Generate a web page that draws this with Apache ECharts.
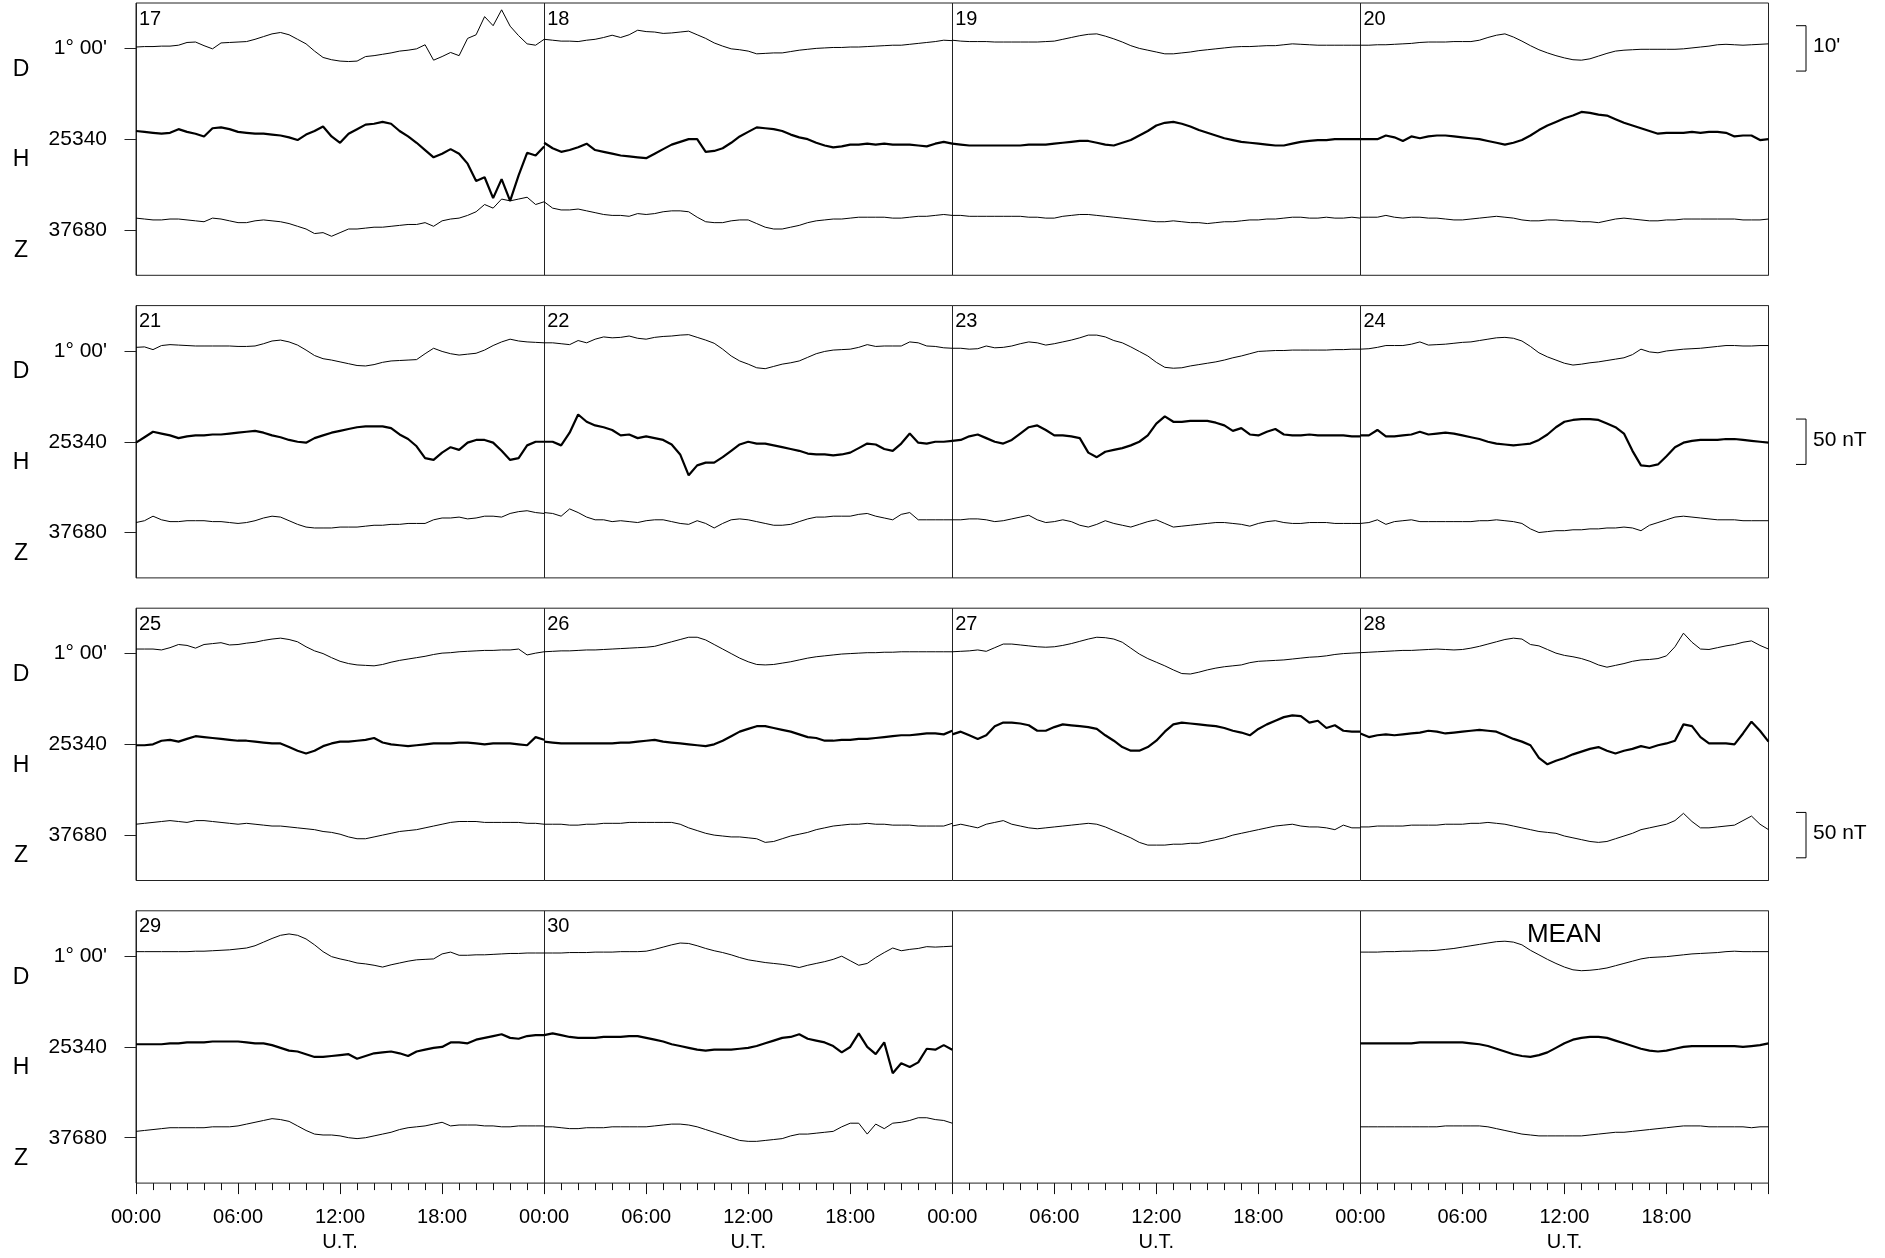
<!DOCTYPE html>
<html><head><meta charset="utf-8">
<script src="https://cdn.jsdelivr.net/npm/echarts@6/dist/echarts.min.js"></script>
<style>html,body{margin:0;padding:0;background:#fff}#c{width:1885px;height:1258px}</style>
</head><body><div id="c"></div>
<script>
// ---------- labels / ticks ----------
const HOUR_LABELS = ['00:00','06:00','12:00','18:00'];
const AXIS_TITLE = 'U.T.';
const COMPONENTS = ['D','H','Z'];
const BASE = {D: 60, H: 25340, Z: 37680};          // D in arc-minutes (1° 00')
const HALF = {D: 10, H: 50, Z: 50};
const SCALE_BARS = [
  {row: 0, comp: 'D', size: 10, label: "10'"},
  {row: 1, comp: 'H', size: 50, label: '50 nT'},
  {row: 2, comp: 'Z', size: 50, label: '50 nT'}
];
const ROW_DAYS = [['17','18','19','20'],['21','22','23','24'],['25','26','27','28'],['29','30',null,'MEAN']];

// ---------- data: 30-minute samples 00:00..24:00 ----------
const D17 = [60.3,60.4,60.4,60.5,60.5,60.7,61.3,61.4,60.6,59.9,61.2,61.3,61.4,61.5,62.0,62.6,63.2,63.5,63.0,62.0,61.0,59.4,58.0,57.5,57.2,57.1,57.2,58.2,58.4,58.7,59.0,59.4,59.6,59.9,60.8,57.4,58.2,59.1,58.4,62.2,63.0,67.0,65.0,68.5,64.9,62.8,61.0,60.7,62.0];
const H17 = [25349,25348,25347,25346,25347,25351,25348,25346,25343,25352,25353,25351,25348,25347,25346,25346,25345,25344,25342,25339,25345,25349,25354,25343,25336,25346,25351,25356,25357,25359,25357,25349,25343,25336,25328,25320,25324,25329,25324,25313,25294,25298,25275,25296,25272,25300,25325,25322,25332];
const Z17 = [37693,37692,37691,37691,37692,37692,37691,37690,37689,37693,37692,37690,37688,37688,37690,37691,37690,37689,37687,37684,37681,37676,37677,37673,37677,37681,37681,37682,37683,37683,37684,37685,37686,37686,37688,37684,37690,37692,37693,37696,37700,37708,37704,37714,37712,37714,37716,37708,37711];
const D18 = [62.0,61.8,61.6,61.6,61.5,61.8,62.0,62.4,62.9,62.4,63.0,64.0,63.7,63.6,63.3,63.4,63.6,63.8,63.0,62.2,61.2,60.5,59.9,59.7,59.4,58.8,58.9,59.0,59.0,59.3,59.6,59.8,60.0,60.1,60.2,60.2,60.3,60.3,60.4,60.5,60.6,60.7,60.7,60.9,61.1,61.3,61.5,61.8,61.7];
const H18 = [25336,25330,25326,25328,25331,25335,25328,25326,25324,25322,25321,25320,25319,25324,25329,25334,25337,25340,25340,25326,25327,25330,25336,25343,25348,25353,25352,25351,25349,25345,25342,25340,25336,25333,25331,25332,25334,25334,25335,25334,25335,25334,25334,25334,25333,25332,25335,25337,25335];
const Z18 = [37711,37704,37702,37702,37703,37701,37699,37697,37696,37696,37695,37698,37697,37698,37700,37701,37701,37700,37694,37689,37688,37688,37690,37691,37691,37687,37683,37681,37681,37683,37685,37688,37690,37691,37692,37692,37693,37694,37694,37694,37694,37693,37693,37694,37695,37695,37696,37697,37696];
const D19 = [61.8,61.6,61.5,61.5,61.5,61.4,61.4,61.4,61.4,61.4,61.4,61.5,61.6,62.0,62.4,62.8,63.1,63.2,62.7,62.1,61.4,60.6,60.0,59.6,59.2,58.8,58.8,59.0,59.2,59.5,59.7,59.9,60.1,60.3,60.4,60.4,60.5,60.6,60.6,60.8,61.0,60.9,60.8,60.7,60.7,60.7,60.7,60.7,60.7];
const H19 = [25335,25334,25333,25333,25333,25333,25333,25333,25333,25334,25334,25334,25335,25336,25337,25338,25338,25336,25334,25333,25336,25339,25344,25349,25355,25358,25359,25357,25354,25350,25347,25344,25341,25339,25337,25336,25335,25334,25333,25333,25335,25337,25338,25339,25339,25340,25340,25340,25340];
const Z19 = [37696,37696,37695,37695,37695,37695,37695,37695,37695,37694,37694,37693,37693,37695,37696,37697,37697,37696,37695,37694,37693,37692,37691,37690,37689,37689,37690,37689,37688,37688,37687,37688,37689,37689,37690,37691,37691,37692,37692,37693,37694,37694,37693,37693,37694,37693,37693,37694,37693];
const D20 = [60.7,60.7,60.8,60.8,60.9,61.0,61.1,61.3,61.4,61.4,61.4,61.5,61.5,61.5,61.8,62.4,62.9,63.2,62.5,61.6,60.6,59.7,59.0,58.4,57.9,57.5,57.4,57.7,58.3,58.9,59.4,59.6,59.7,59.8,59.8,59.8,59.8,59.8,59.9,60.1,60.3,60.5,60.8,60.9,60.8,60.7,60.8,60.9,61.0];
const H20 = [25340,25340,25340,25344,25342,25338,25343,25341,25343,25344,25344,25343,25342,25341,25340,25338,25336,25334,25336,25339,25344,25350,25355,25359,25363,25366,25370,25369,25367,25366,25362,25358,25355,25352,25349,25346,25347,25347,25347,25348,25347,25348,25348,25347,25343,25344,25344,25339,25340];
const Z20 = [37694,37694,37694,37696,37694,37693,37694,37694,37693,37693,37692,37691,37691,37692,37693,37694,37695,37694,37693,37691,37690,37690,37691,37691,37690,37690,37689,37689,37688,37690,37692,37693,37692,37691,37690,37690,37691,37691,37692,37692,37692,37692,37692,37692,37692,37691,37691,37691,37692];
const D21 = [60.8,60.9,60.3,61.2,61.4,61.3,61.2,61.1,61.1,61.1,61.1,61.1,61.0,61.0,61.1,61.6,62.2,62.4,62.0,61.3,60.2,59.0,58.3,58.0,57.6,57.2,56.8,56.7,57.0,57.5,57.8,57.9,58.0,58.1,59.4,60.6,59.9,59.4,59.1,59.3,59.5,60.2,61.2,62.0,62.6,62.2,62.0,61.9,61.8];
const H21 = [25339,25345,25351,25349,25347,25344,25346,25347,25347,25348,25348,25349,25350,25351,25352,25350,25347,25345,25342,25340,25339,25344,25347,25350,25352,25354,25356,25357,25357,25357,25355,25348,25343,25335,25322,25320,25328,25334,25331,25339,25342,25342,25339,25330,25320,25322,25336,25340,25340];
const Z21 = [37691,37693,37698,37694,37692,37692,37693,37693,37693,37692,37692,37691,37690,37691,37693,37696,37698,37697,37693,37689,37686,37685,37685,37685,37686,37686,37686,37687,37688,37688,37689,37689,37690,37690,37690,37694,37696,37696,37697,37695,37696,37698,37698,37697,37701,37703,37704,37702,37701];
const D22 = [61.8,61.8,61.6,61.4,62.3,61.8,62.6,63.1,62.9,63.0,63.3,62.8,62.6,63.0,63.2,63.3,63.5,63.6,63.0,62.4,61.7,60.4,58.9,57.8,57.1,56.3,56.1,56.6,57.1,57.4,57.8,58.6,59.4,59.9,60.2,60.3,60.4,60.8,61.4,61.0,61.1,61.1,61.1,62.0,61.8,61.1,61.0,60.7,60.6];
const H22 = [25340,25340,25336,25350,25370,25362,25358,25356,25353,25347,25348,25344,25346,25344,25342,25337,25326,25303,25314,25317,25317,25323,25330,25337,25340,25338,25338,25336,25334,25332,25330,25327,25326,25326,25325,25326,25328,25333,25338,25337,25332,25330,25338,25349,25339,25338,25340,25340,25341];
const Z22 = [37702,37701,37698,37706,37702,37697,37694,37694,37692,37693,37692,37691,37693,37694,37694,37692,37690,37689,37693,37690,37685,37690,37694,37695,37694,37692,37690,37688,37688,37689,37692,37695,37697,37697,37698,37698,37698,37700,37701,37698,37696,37694,37700,37702,37694,37694,37694,37694,37694];
const D23 = [60.6,60.6,60.4,60.5,61.1,60.7,60.8,61.1,61.6,62.0,61.8,61.3,61.6,62.0,62.4,62.9,63.5,63.5,63.1,62.3,61.8,60.9,59.9,58.9,57.5,56.4,56.2,56.3,56.7,57.0,57.3,57.6,58.0,58.5,58.9,59.4,59.9,60.0,60.1,60.1,60.2,60.2,60.2,60.2,60.2,60.3,60.3,60.4,60.4];
const H23 = [25341,25342,25346,25348,25344,25340,25338,25342,25349,25356,25358,25353,25347,25347,25346,25344,25328,25323,25329,25331,25333,25336,25340,25347,25360,25368,25362,25362,25363,25363,25363,25361,25358,25352,25355,25348,25347,25351,25354,25348,25347,25347,25348,25347,25347,25347,25347,25346,25346];
const Z23 = [37694,37694,37695,37695,37694,37692,37693,37695,37697,37699,37694,37691,37692,37694,37692,37688,37686,37689,37693,37690,37688,37686,37689,37692,37694,37690,37686,37687,37688,37689,37690,37691,37691,37690,37689,37687,37690,37692,37693,37691,37690,37690,37691,37691,37691,37690,37690,37690,37690];
const D24 = [60.4,60.5,60.8,61.2,61.2,61.2,61.5,62.0,61.3,61.4,61.5,61.7,61.9,62.0,62.3,62.6,62.9,63.0,62.8,62.2,61.0,59.6,58.7,58.0,57.3,56.9,57.1,57.4,57.6,57.9,58.2,58.5,59.2,60.4,59.8,59.6,60.0,60.2,60.4,60.5,60.6,60.8,61.0,61.2,61.2,61.1,61.1,61.2,61.2];
const H24 = [25347,25347,25353,25346,25346,25347,25348,25351,25348,25349,25350,25349,25347,25345,25343,25340,25338,25337,25336,25337,25338,25342,25348,25356,25362,25364,25365,25365,25364,25360,25356,25349,25330,25314,25313,25315,25324,25334,25339,25341,25342,25342,25342,25343,25343,25342,25341,25340,25339];
const Z24 = [37690,37691,37694,37689,37692,37693,37694,37692,37692,37692,37692,37692,37692,37692,37693,37693,37694,37693,37692,37690,37684,37680,37681,37682,37682,37683,37683,37684,37684,37685,37685,37686,37685,37682,37688,37691,37694,37697,37698,37697,37696,37695,37694,37694,37694,37693,37693,37693,37693];
const D25 = [61.0,61.0,61.0,60.8,61.3,62.0,61.8,61.2,62.0,62.2,62.4,61.9,62.0,62.3,62.5,62.9,63.2,63.4,63.1,62.6,61.5,60.6,60.0,59.1,58.3,57.8,57.5,57.4,57.3,57.6,58.1,58.5,58.8,59.1,59.4,59.8,60.1,60.2,60.4,60.5,60.6,60.7,60.7,60.8,60.8,61.0,59.7,60.1,60.4];
const H25 = [25339,25339,25340,25344,25345,25343,25346,25349,25348,25347,25346,25345,25344,25344,25343,25342,25341,25341,25337,25333,25330,25333,25338,25341,25343,25343,25344,25345,25347,25342,25340,25339,25338,25339,25340,25341,25341,25341,25342,25342,25341,25340,25341,25341,25341,25340,25339,25348,25345];
const Z25 = [37692,37693,37694,37695,37696,37695,37694,37696,37696,37695,37694,37693,37692,37693,37692,37691,37690,37690,37689,37688,37687,37686,37684,37683,37681,37678,37676,37676,37678,37680,37682,37684,37685,37686,37688,37690,37692,37694,37695,37695,37695,37694,37694,37694,37694,37694,37693,37693,37692];
const D26 = [60.4,60.5,60.6,60.6,60.7,60.8,60.8,60.9,61.0,61.1,61.2,61.3,61.4,61.6,62.1,62.6,63.1,63.6,63.6,63.0,62.0,61.0,60.0,59.0,58.2,57.6,57.5,57.6,57.9,58.2,58.6,59.0,59.3,59.5,59.7,59.9,60.0,60.1,60.2,60.2,60.3,60.3,60.4,60.4,60.4,60.4,60.4,60.4,60.4];
const H26 = [25343,25342,25341,25341,25341,25341,25341,25341,25341,25342,25342,25343,25344,25345,25343,25342,25341,25340,25339,25338,25340,25344,25349,25354,25357,25360,25360,25358,25356,25354,25351,25348,25347,25344,25344,25345,25345,25346,25346,25347,25348,25349,25350,25350,25351,25352,25352,25351,25355];
const Z26 = [37692,37692,37692,37691,37691,37692,37692,37693,37693,37693,37694,37694,37694,37694,37694,37694,37692,37688,37685,37682,37680,37679,37678,37678,37677,37676,37672,37673,37676,37679,37681,37683,37686,37688,37690,37691,37692,37692,37693,37692,37692,37691,37691,37691,37690,37690,37690,37690,37693];
const D27 = [60.4,60.5,60.6,60.8,60.5,61.3,62.1,62.1,61.9,61.7,61.5,61.4,61.5,61.8,62.2,62.7,63.2,63.6,63.5,63.2,62.5,61.2,59.9,58.9,58.1,57.3,56.4,55.6,55.5,55.9,56.4,56.8,57.1,57.3,57.5,58.0,58.3,58.4,58.5,58.6,58.8,59.0,59.2,59.3,59.5,59.8,60.0,60.1,60.2];
const H27 = [25351,25354,25350,25346,25350,25360,25364,25364,25363,25361,25355,25355,25359,25362,25361,25360,25359,25357,25350,25344,25337,25333,25333,25337,25344,25354,25362,25364,25363,25362,25361,25360,25358,25355,25353,25350,25357,25362,25366,25370,25372,25371,25364,25366,25358,25361,25355,25354,25354];
const Z27 = [37690,37692,37690,37688,37692,37694,37696,37692,37690,37688,37687,37688,37689,37690,37691,37692,37693,37692,37689,37685,37681,37677,37672,37669,37669,37669,37670,37670,37671,37671,37673,37675,37677,37680,37682,37684,37686,37688,37690,37691,37692,37690,37689,37689,37688,37686,37691,37688,37688];
const D28 = [60.2,60.3,60.4,60.5,60.6,60.7,60.7,60.8,60.9,61.0,60.9,60.8,60.9,61.2,61.6,62.1,62.6,63.1,63.4,63.2,62.0,61.7,60.9,60.1,59.6,59.3,58.9,58.3,57.5,57.0,57.4,57.8,58.3,58.6,58.7,58.9,59.5,61.5,64.5,62.5,61.0,60.9,61.3,61.7,62.0,62.5,62.8,61.8,61.0];
const H28 = [25352,25348,25350,25351,25350,25351,25352,25353,25355,25354,25352,25353,25354,25355,25356,25355,25354,25350,25346,25343,25339,25325,25318,25322,25325,25329,25332,25335,25337,25333,25330,25333,25335,25338,25336,25339,25341,25344,25362,25360,25348,25341,25341,25341,25340,25352,25365,25355,25343];
const Z28 = [37689,37689,37690,37690,37690,37690,37691,37691,37691,37691,37692,37692,37692,37693,37693,37694,37693,37692,37690,37688,37686,37684,37683,37682,37679,37677,37675,37673,37672,37673,37676,37679,37682,37686,37688,37690,37692,37696,37704,37695,37688,37688,37689,37690,37691,37696,37701,37692,37686];
const D29 = [61.0,61.0,61.0,61.0,61.0,61.0,61.0,61.1,61.1,61.2,61.3,61.4,61.6,61.8,62.3,63.1,63.9,64.6,64.9,64.6,63.8,62.5,61.0,59.9,59.4,59.0,58.5,58.3,58.0,57.6,58.1,58.5,58.9,59.2,59.3,59.4,60.5,60.9,60.2,60.2,60.3,60.3,60.4,60.5,60.6,60.6,60.7,60.7,60.7];
const H29 = [25343,25343,25343,25343,25344,25344,25345,25345,25345,25346,25346,25346,25346,25345,25344,25344,25342,25339,25336,25335,25332,25329,25329,25330,25331,25332,25327,25330,25333,25334,25335,25333,25330,25335,25337,25339,25340,25345,25345,25344,25348,25350,25352,25354,25350,25349,25352,25353,25353];
const Z29 = [37687,37688,37689,37690,37691,37691,37691,37691,37691,37692,37692,37692,37693,37695,37697,37699,37701,37700,37698,37693,37688,37684,37683,37683,37682,37680,37679,37680,37682,37684,37686,37689,37691,37692,37693,37695,37697,37693,37694,37694,37694,37693,37693,37692,37692,37693,37693,37693,37693];
const D30 = [60.7,60.7,60.7,60.8,60.8,60.8,60.9,60.9,60.9,61.0,61.0,61.0,61.1,61.5,62.0,62.5,62.9,62.8,62.3,61.7,61.2,60.8,60.3,59.7,59.2,58.9,58.6,58.4,58.2,57.9,57.5,58.0,58.4,58.8,59.3,60.0,59.0,58.0,58.4,59.7,60.8,61.8,61.2,61.5,61.7,62.1,62.0,62.1,62.2];
const H30 = [25353,25355,25353,25351,25350,25350,25350,25351,25351,25351,25352,25352,25350,25348,25346,25343,25341,25339,25337,25336,25337,25337,25337,25338,25339,25341,25344,25347,25350,25351,25354,25349,25347,25345,25341,25334,25340,25355,25340,25332,25345,25311,25322,25318,25323,25338,25337,25342,25337];
const Z30 = [37692,37692,37691,37690,37690,37691,37691,37691,37692,37692,37692,37692,37692,37693,37694,37695,37695,37694,37692,37689,37686,37683,37680,37677,37676,37676,37677,37678,37679,37682,37684,37684,37685,37686,37687,37692,37696,37696,37684,37695,37690,37696,37697,37699,37702,37702,37700,37699,37696];
const DMEAN = [60.9,60.9,60.9,61.0,61.0,61.1,61.1,61.2,61.2,61.3,61.5,61.7,62.0,62.3,62.6,62.9,63.2,63.3,63.1,62.5,61.3,60.3,59.3,58.4,57.6,57.0,56.8,56.9,57.1,57.4,57.9,58.4,58.9,59.4,59.7,59.8,59.9,60.1,60.3,60.5,60.6,60.7,60.8,61.0,61.1,61.0,61.0,61.0,61.0];
const HMEAN = [25344,25344,25344,25344,25344,25344,25344,25345,25345,25345,25345,25345,25345,25344,25343,25341,25338,25335,25332,25330,25329,25331,25334,25339,25344,25348,25350,25351,25351,25350,25347,25344,25341,25338,25336,25335,25336,25338,25340,25341,25341,25341,25341,25341,25341,25340,25341,25342,25344];
const ZMEAN = [37692,37692,37692,37692,37692,37692,37692,37692,37692,37692,37693,37693,37693,37693,37693,37692,37690,37688,37686,37684,37683,37682,37682,37682,37682,37682,37682,37683,37684,37685,37686,37686,37687,37688,37689,37690,37691,37692,37693,37693,37693,37692,37692,37692,37692,37692,37691,37692,37692];

const DAY_DATA = {
  '17':{D:D17,H:H17,Z:Z17}, '18':{D:D18,H:H18,Z:Z18}, '19':{D:D19,H:H19,Z:Z19}, '20':{D:D20,H:H20,Z:Z20},
  '21':{D:D21,H:H21,Z:Z21}, '22':{D:D22,H:H22,Z:Z22}, '23':{D:D23,H:H23,Z:Z23}, '24':{D:D24,H:H24,Z:Z24},
  '25':{D:D25,H:H25,Z:Z25}, '26':{D:D26,H:H26,Z:Z26}, '27':{D:D27,H:H27,Z:Z27}, '28':{D:D28,H:H28,Z:Z28},
  '29':{D:D29,H:H29,Z:Z29}, '30':{D:D30,H:H30,Z:Z30}, 'MEAN':{D:DMEAN,H:HMEAN,Z:ZMEAN}
};

// ---------- layout ----------
const FONT = 'Arial, "Liberation Sans", Helvetica, sans-serif';
const LEFT = 136, WIDTH = 1632.5, ROW_TOP0 = 3, ROW_PITCH = 302.6, ROW_H = 272.3, BAND = ROW_H / 3;
const rowTop = r => ROW_TOP0 + r * ROW_PITCH;

function fmtD(v){ return Math.floor(v/60) + '° ' + String(Math.round(v % 60)).padStart(2,'0') + "'"; }

const grids = [], xAxes = [], yAxes = [], series = [];
for (let r = 0; r < 4; r++) {
  COMPONENTS.forEach((comp, c) => {
    const gi = grids.length;
    grids.push({left: LEFT, width: WIDTH, top: rowTop(r) + c * BAND, height: BAND, show: false});
    const bottomAxis = (r === 3 && c === 2);
    xAxes.push({
      gridIndex: gi, type: 'value', min: 0, max: 96, interval: 6, show: bottomAxis,
      axisLine: {show: false},
      axisTick: {show: true, length: 11, lineStyle: {color: '#111', width: 1}},
      minorTick: {show: true, splitNumber: 6, length: 7, lineStyle: {color: '#111', width: 1}},
      splitLine: {show: false}, minorSplitLine: {show: false},
      axisLabel: {
        show: true, margin: 22, fontSize: 20, lineHeight: 25, color: '#000', fontFamily: FONT,
        showMaxLabel: false,
        formatter: v => { if (v >= 96) return ''; const h = v % 24; return HOUR_LABELS[h/6] + (h === 12 ? '\n' + AXIS_TITLE : ''); }
      }
    });
    const base = BASE[comp];
    yAxes.push({
      gridIndex: gi, type: 'value', min: base - HALF[comp], max: base + HALF[comp], position: 'left',
      axisLine: {show: false},
      axisTick: {show: true, customValues: [base], length: 11.5, lineStyle: {color: '#222'}},
      axisLabel: {show: true, customValues: [base], margin: 29, fontSize: 21, color: '#000', fontFamily: FONT,
                  formatter: v => comp === 'D' ? fmtD(v) : String(v)},
      splitLine: {show: false}
    });
  });
}
// frame grids (border + day dividers)
for (let r = 0; r < 4; r++) {
  const gi = grids.length;
  grids.push({left: LEFT, width: WIDTH, top: rowTop(r), height: ROW_H, show: true, borderColor: '#222', borderWidth: 1, backgroundColor: 'rgba(0,0,0,0)'});
  xAxes.push({gridIndex: gi, type: 'value', min: 0, max: 96, interval: 24,
    axisLine: {show: false}, axisTick: {show: false}, axisLabel: {show: false},
    splitLine: {show: true, lineStyle: {color: '#222', width: 1}}});
  yAxes.push({gridIndex: gi, type: 'value', min: 0, max: 1, show: false});
}

ROW_DAYS.forEach((days, r) => {
  days.forEach((day, s) => {
    if (!day) return;
    COMPONENTS.forEach((comp, c) => {
      const arr = DAY_DATA[day][comp];
      const step = 24 / (arr.length - 1);
      series.push({
        type: 'line', name: day + comp, xAxisIndex: r*3 + c, yAxisIndex: r*3 + c,
        data: arr.map((v, i) => [s*24 + i*step, v]),
        showSymbol: false, symbol: 'none', clip: false, silent: true, animation: false, z: 3,
        lineStyle: {color: '#000', width: comp === 'H' ? 2.2 : 1}
      });
    });
  });
});

const chart = echarts.init(document.getElementById('c'));
chart.setOption({animation: false, backgroundColor: '#fff', grid: grids, xAxis: xAxes, yAxis: yAxes, series: series});

// ---------- annotations positioned through the axes ----------
const g = [];
const txt = (text, x, y, size, align, valign) => ({type: 'text', silent: true, z: 10,
  style: {text, x, y, fill: '#000', font: size + 'px ' + FONT, textAlign: align, textVerticalAlign: valign, align: align, verticalAlign: valign}});
for (let r = 0; r < 4; r++) {
  COMPONENTS.forEach((comp, c) => {
    const y = chart.convertToPixel({yAxisIndex: r*3 + c}, BASE[comp]);
    g.push(txt(comp, 21, y + 21, 23, 'center', 'middle'));
  });
  ROW_DAYS[r].forEach((day, s) => {
    if (!day) return;
    const x0 = chart.convertToPixel({xAxisIndex: 12 + r}, s*24);
    if (day === 'MEAN') {
      const xm = chart.convertToPixel({xAxisIndex: 12 + r}, s*24 + 12);
      g.push(txt(day, xm, rowTop(r) + 24, 26, 'center', 'middle'));
    } else {
      g.push(txt(day, x0 + 3, rowTop(r) + 16, 20, 'left', 'middle'));
    }
  });
}
SCALE_BARS.forEach(b => {
  const ai = b.row*3 + COMPONENTS.indexOf(b.comp);
  const yT = chart.convertToPixel({yAxisIndex: ai}, BASE[b.comp] + b.size/2);
  const yB = chart.convertToPixel({yAxisIndex: ai}, BASE[b.comp] - b.size/2);
  const x0 = 1796, x1 = 1806;
  g.push({type: 'polyline', silent: true, shape: {points: [[x0, yT], [x1, yT], [x1, yB], [x0, yB]]}, style: {stroke: '#000', fill: null, lineWidth: 1}});
  g.push(txt(b.label, 1813, (yT + yB)/2 - 2, 21, 'left', 'middle'));
});
chart.setOption({graphic: g});
</script>
</body></html>
